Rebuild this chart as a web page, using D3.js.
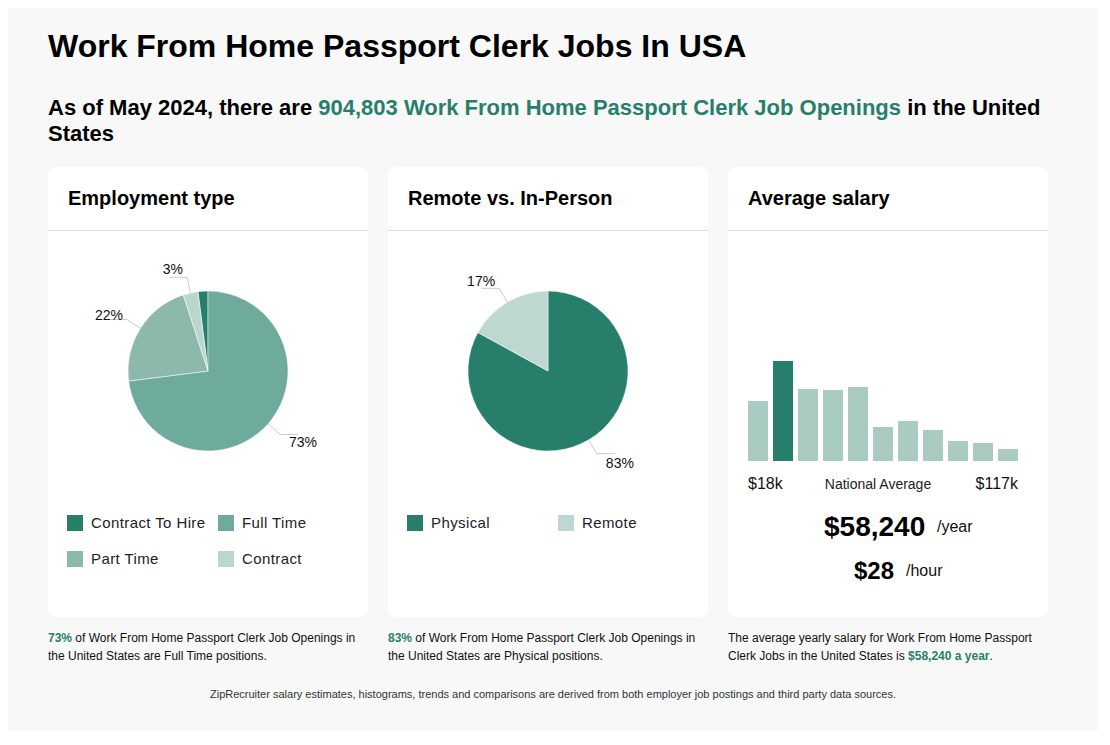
<!DOCTYPE html>
<meta charset="utf-8">
<style>
body { margin: 0; background: #fff; font-family: "Liberation Sans", Arial, sans-serif; color: #000; }
.page { position: absolute; left: 8px; top: 8px; width: 1090px; height: 723px; background: #f8f8f8; }
.title { position: absolute; left: 40px; top: 19px; font-size: 32px; line-height: 38px; font-weight: bold; }
.sub { position: absolute; left: 40px; top: 87px; width: 1010px; font-size: 22px; line-height: 26px; font-weight: bold; }
.green { color: #277f6b; }
.card { position: absolute; top: 159px; width: 320px; height: 450px; background: #fff; border-radius: 8px; }
.card .head { height: 64px; border-bottom: 1px solid #e0e0e0; box-sizing: border-box; padding-left: 20px;
  font-size: 20px; font-weight: bold; line-height: 62px; }
.card svg { position: absolute; left: 0; top: 0; }
.foot { position: absolute; top: 621px; width: 330px; font-size: 12px; line-height: 18px; color: #111; }
.foot b { color: #277f6b; }
.note { position: absolute; left: 0; width: 1090px; top: 679px; text-align: center; font-size: 11px; line-height: 14px; color: #333; }
svg text { font-family: "Liberation Sans", Arial, sans-serif; }
</style>
<body>
<div class="page">
  <div class="title">Work From Home Passport Clerk Jobs In USA</div>
  <div class="sub">As of May 2024, there are <span class="green">904,803 Work From Home Passport Clerk Job Openings</span> in the United States</div>
  <div class="card" id="c1" style="left:40px"><div class="head">Employment type</div></div>
  <div class="card" id="c2" style="left:380px"><div class="head">Remote vs. In-Person</div></div>
  <div class="card" id="c3" style="left:720px"><div class="head">Average salary</div></div>
  <div class="foot" style="left:40px"><b>73%</b> of Work From Home Passport Clerk Job Openings in<br>the United States are Full Time positions.</div>
  <div class="foot" style="left:380px"><b>83%</b> of Work From Home Passport Clerk Job Openings in<br>the United States are Physical positions.</div>
  <div class="foot" style="left:720px">The average yearly salary for Work From Home Passport<br>Clerk Jobs in the United States is <b>$58,240 a year</b>.</div>
  <div class="note">ZipRecruiter salary estimates, histograms, trends and comparisons are derived from both employer job postings and third party data sources.</div>
</div>

<script src="https://d3js.org/d3.v7.min.js"></script>
<script>
// employment type (legend order)
var empTypes = ["Contract To Hire", "Full Time", "Part Time", "Contract"];
var empValues = [2, 73, 22, 3];
var empColors = ["#277f6b", "#6eab9c", "#8cb9ac", "#b9d7cf"];
var empPieOrder = ["Full Time", "Part Time", "Contract", "Contract To Hire"];

// remote vs in-person
var remoteTypes = ["Physical", "Remote"];
var remoteValues = [83, 17];
var remoteColors = ["#277f6b", "#bcd8d0"];

// salary histogram
var salaryBins = [60, 100, 72, 71, 74, 34, 40, 31, 20, 18, 12];
var highlightBin = 1;
var salaryMin = "$18k", salaryMax = "$117k";
var salaryYear = "$58,240", salaryHour = "$28";

function drawPie(id, types, values, colors, order) {
  var svg = d3.select(id).append("svg").attr("width", 320).attr("height", 450);
  var data = types.map(function(t, i) { return {type: t, value: values[i], color: colors[i]}; });
  var pie = d3.pie().value(function(d) { return d.value; })
    .sort(function(a, b) { return order.indexOf(a.type) - order.indexOf(b.type); });
  var r = 80;
  var arc = d3.arc().innerRadius(0).outerRadius(r);
  var g = svg.append("g").attr("transform", "translate(160,204)");
  var arcs = pie(data);

  g.selectAll("path").data(arcs).enter().append("path")
    .attr("d", arc)
    .attr("fill", function(d) { return d.data.color; })
    .attr("stroke", "#fff").attr("stroke-width", 0.5);

  // leader lines + % labels (tiny slices unlabelled)
  var lab = arcs.filter(function(d) { return d.data.value >= 3; });
  lab.forEach(function(d) {
    var a = (d.startAngle + d.endAngle) / 2;
    var s = Math.sin(a), c = Math.cos(a);
    var side = s < 0 ? -1 : 1;
    var p1 = [s * r, -c * r], p2 = [s * (r + 16), -c * (r + 16)];
    var p3 = [p2[0] + side * 18, p2[1]];
    g.append("polyline")
      .attr("points", [p1, p2, p3].map(function(p) { return p.join(","); }).join(" "))
      .attr("fill", "none").attr("stroke", "#ccc").attr("stroke-width", 1);
    g.append("text")
      .attr("x", side < 0 ? p2[0] - 4 : p2[0] + 9)
      .attr("y", p2[1] - c * 10 + 6)
      .attr("text-anchor", side < 0 ? "end" : "start")
      .attr("font-size", 14).attr("fill", "#111")
      .text(d.data.value + "%");
  });

  var leg = svg.append("g").selectAll("g").data(data).enter().append("g")
    .attr("transform", function(d, i) { return "translate(" + (19 + (i % 2) * 151) + "," + (348 + Math.floor(i / 2) * 36) + ")"; });
  leg.append("rect").attr("width", 16).attr("height", 16).attr("fill", function(d) { return d.color; });
  leg.append("text").attr("x", 24).attr("y", 13).attr("font-size", 15)
    .attr("letter-spacing", 0.4).attr("fill", "#222")
    .text(function(d) { return d.type; });
}

drawPie("#c1", empTypes, empValues, empColors, empPieOrder);
drawPie("#c2", remoteTypes, remoteValues, remoteColors, remoteTypes);

// histogram
var svg3 = d3.select("#c3").append("svg").attr("width", 320).attr("height", 450);
var x = d3.scaleBand().domain(d3.range(salaryBins.length)).range([20, 290]).paddingInner(0.2).paddingOuter(0);
var y = d3.scaleLinear().domain([0, 100]).range([294, 194]);
svg3.selectAll("rect").data(salaryBins).enter().append("rect")
  .attr("x", function(d, i) { return x(i); })
  .attr("width", x.bandwidth())
  .attr("y", function(d) { return y(d); })
  .attr("height", function(d) { return y(0) - y(d); })
  .attr("fill", function(d, i) { return i === highlightBin ? "#277f6b" : "#a9cbc1"; });

svg3.append("text").attr("x", 20).attr("y", 322).attr("font-size", 16).attr("fill", "#111").text(salaryMin);
svg3.append("text").attr("x", 150).attr("y", 322).attr("font-size", 14).attr("text-anchor", "middle").attr("fill", "#222").text("National Average");
svg3.append("text").attr("x", 290).attr("y", 322).attr("font-size", 16).attr("text-anchor", "end").attr("fill", "#111").text(salaryMax);

svg3.append("text").attr("x", 96).attr("y", 369).attr("font-size", 28).attr("font-weight", "bold").text(salaryYear);
svg3.append("text").attr("x", 209).attr("y", 365).attr("font-size", 16).attr("fill", "#111").text("/year");
svg3.append("text").attr("x", 126).attr("y", 412).attr("font-size", 24).attr("font-weight", "bold").text(salaryHour);
svg3.append("text").attr("x", 178).attr("y", 409).attr("font-size", 16).attr("fill", "#111").text("/hour");
</script>
</body>
